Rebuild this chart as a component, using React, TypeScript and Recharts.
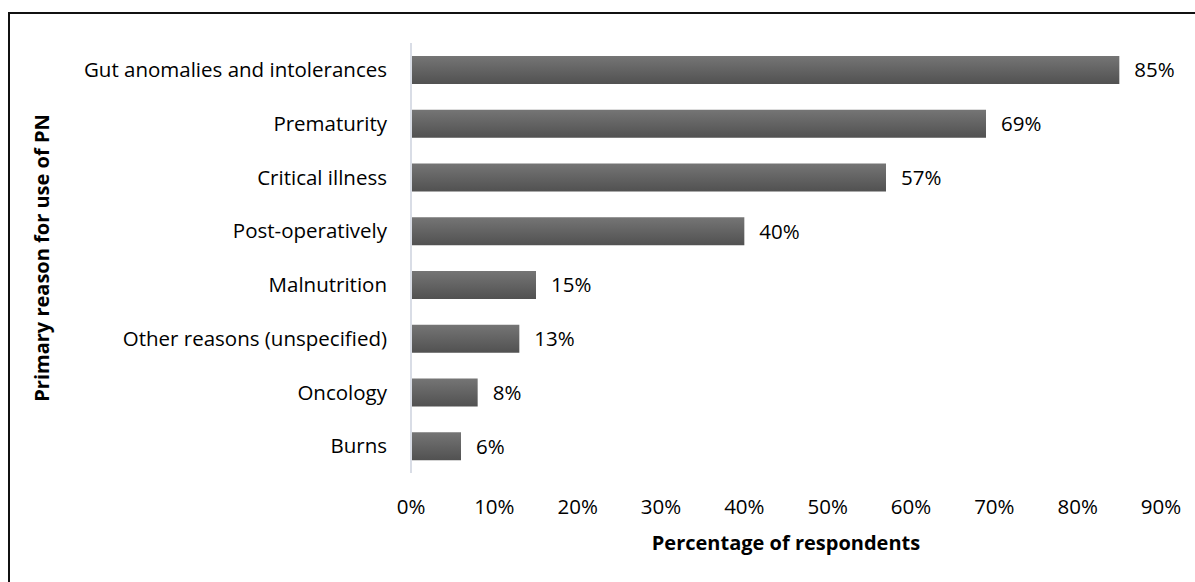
import React from "react";
import { BarChart, Bar, XAxis, YAxis, LabelList, Label } from "recharts";

const categories = [
  "Gut anomalies and intolerances",
  "Prematurity",
  "Critical illness",
  "Post-operatively",
  "Malnutrition",
  "Other reasons (unspecified)",
  "Oncology",
  "Burns",
];
const percentages = [85, 69, 57, 40, 15, 13, 8, 6];
const xTicks = [0, 10, 20, 30, 40, 50, 60, 70, 80, 90];

const data = categories.map((name, i) => ({ name, value: percentages[i] }));

const FONT = "'Open Sans', sans-serif";
const FS = 20.5;
const FS_BOLD = 20;

function YTitle(props: any) {
  const vb = props.viewBox || {};
  const cy = (vb.y ?? 43) + (vb.height ?? 430) / 2;
  const cx = 41;
  return (
    <text
      x={cx}
      y={cy}
      transform={`rotate(-90, ${cx}, ${cy})`}
      textAnchor="middle"
      dominantBaseline="central"
      fontFamily={FONT}
      fontSize={FS_BOLD}
      fontWeight={700}
      fill="#000"
    >
      Primary reason for use of PN
    </text>
  );
}

export default function App() {
  return (
    <div style={{ position: "absolute", left: 0, top: 0, width: 1195, height: 582, background: "#fff", overflow: "hidden" }}>
      <div
        style={{
          position: "absolute",
          left: 8,
          top: 12,
          width: 1300,
          height: 700,
          borderTop: "2px solid #111",
          borderLeft: "2px solid #111",
        }}
      />
      <BarChart
        width={1195}
        height={582}
        data={data}
        layout="vertical"
        margin={{ top: 43, right: 34, bottom: 0, left: 0 }}
        style={{ position: "absolute", left: 0, top: 0 }}
      >
        <defs>
          <linearGradient id="barGrad" x1="0" y1="0" x2="0" y2="1">
            <stop offset="0%" stopColor="#757575" />
            <stop offset="100%" stopColor="#515151" />
          </linearGradient>
        </defs>
        <XAxis
          type="number"
          domain={[0, 90]}
          ticks={xTicks}
          tickFormatter={(v: number) => `${v}%`}
          axisLine={false}
          tickLine={false}
          tickMargin={20}
          height={109}
          tick={{ fontFamily: FONT, fontSize: FS, fill: "#000" }}
          interval={0}
        >
          <Label
            value="Percentage of respondents"
            position="insideTop"
            offset={63}
            style={{ fontFamily: FONT, fontSize: FS_BOLD, fontWeight: 700, fill: "#000" }}
          />
        </XAxis>
        <YAxis
          type="category"
          dataKey="name"
          width={411}
          axisLine={{ stroke: "#d9dde6", strokeWidth: 2 }}
          tickLine={false}
          tickMargin={18}
          interval={0}
          tick={{ fontFamily: FONT, fontSize: FS, fill: "#000" }}
        >
          <Label content={<YTitle />} />
        </YAxis>
        <Bar dataKey="value" fill="url(#barGrad)" barSize={28} isAnimationActive={false}>
          <LabelList
            dataKey="value"
            position="right"
            offset={15}
            formatter={(v: any) => `${v}%`}
            style={{ fontFamily: FONT, fontSize: FS, fill: "#000" }}
          />
        </Bar>
      </BarChart>
    </div>
  );
}
